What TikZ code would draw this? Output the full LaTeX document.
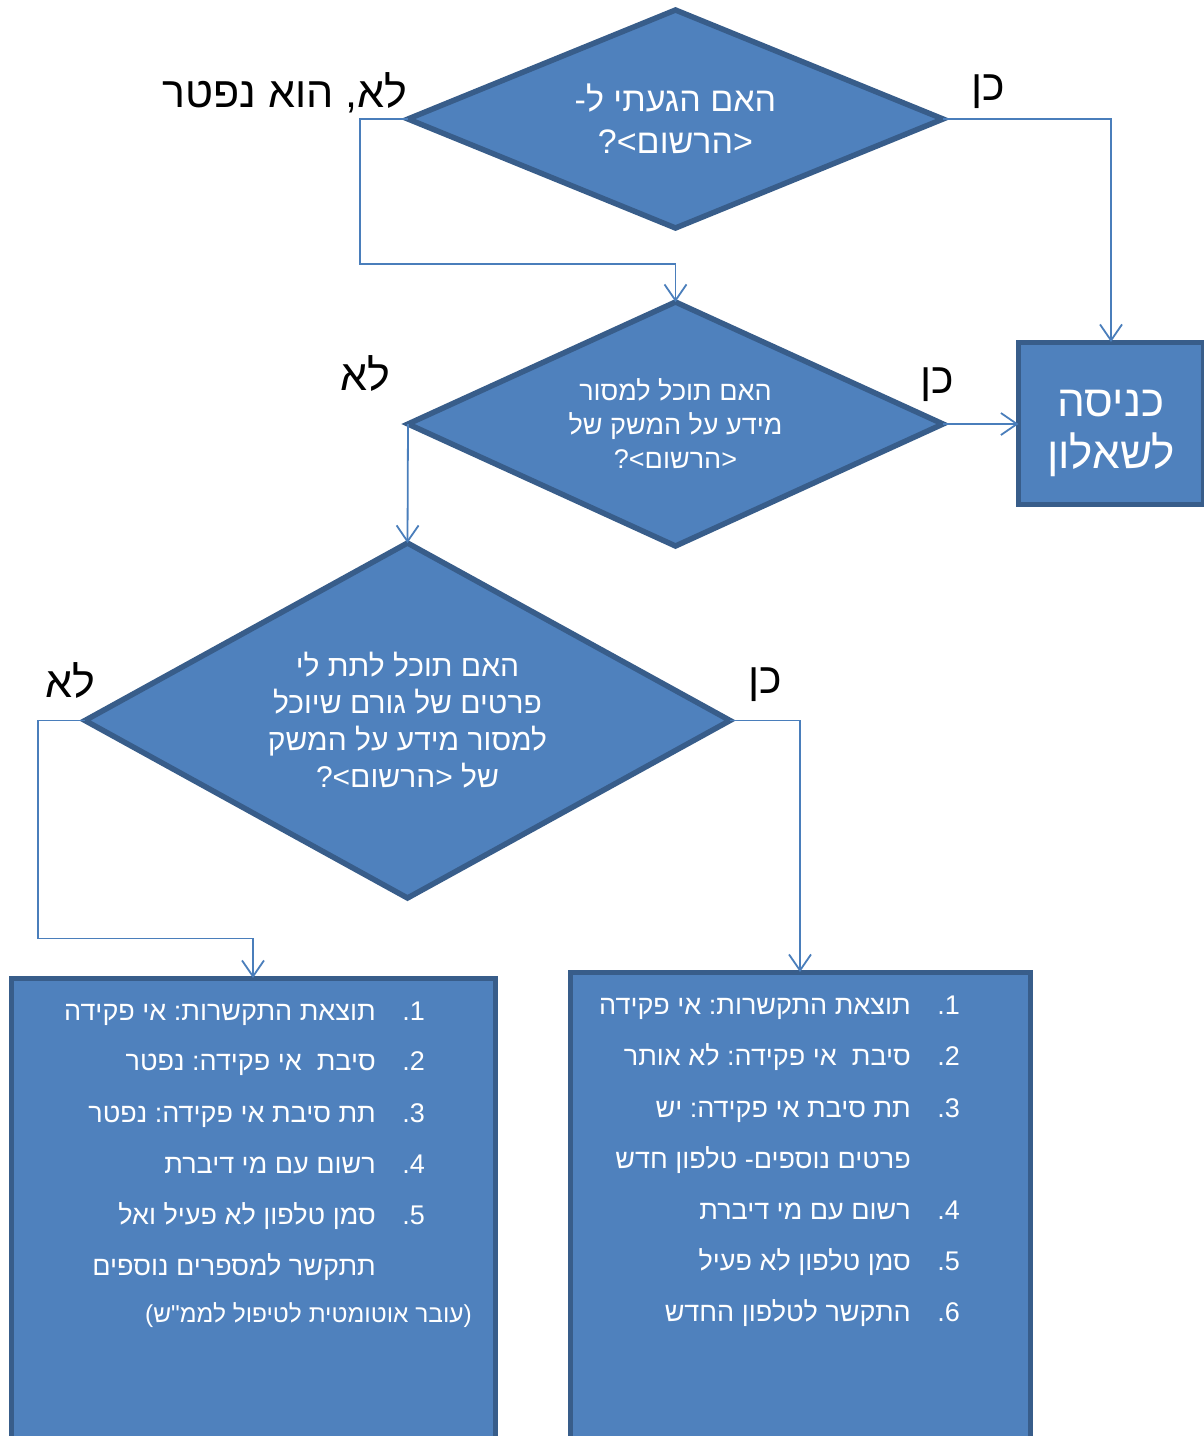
\documentclass[tikz,border=0pt]{standalone}
\usepackage{fontspec}
\newfontfamily\hebfont[Script=Hebrew]{Liberation Sans}
\TeXXeTstate=1
\usetikzlibrary{shapes.geometric,arrows.meta}
\definecolor{boxfill}{HTML}{4F81BD}
\definecolor{boxline}{HTML}{385D8A}
\definecolor{linkcol}{HTML}{4A7EBB}
\newcommand\hebline[1]{\beginR #1\endR}
\newcommand\hebsize[2]{\hebfont\frenchspacing\fontsize{#1}{#2}\selectfont}

\begin{document}
\begin{tikzpicture}[x=1pt,y=-1pt,
  decision/.style={shape=diamond, draw=boxline, fill=boxfill, line width=5.5pt,
    inner sep=0pt, outer sep=0pt, text=white, align=center},
  blockbox/.style={rectangle, draw=boxline, fill=boxfill, line width=5pt,
    inner sep=0pt, outer sep=0pt},
  link/.style={draw=linkcol, line width=1.8pt,
    -{Straight Barb[length=16pt,width=22pt,line width=1.8pt]}},
  answer/.style={font=\hebsize{43}{50}, anchor=base, inner sep=0pt},
  item/.style={text=white, font=\hebsize{27}{32}, anchor=base east, inner sep=0pt},
  note/.style={text=white, font=\hebsize{24.5}{29}, anchor=base east, inner sep=0pt},
]
\useasboundingbox (0,0) rectangle (1204,1436);

% decisions
\node[decision, minimum width=535pt, minimum height=218pt, aspect=2.45,
  font=\hebsize{34}{42}] (q1) at (675.5,119)
  {\hebline{האם הגעתי ל-}\\\hebline{<הרשום>?}};
\node[decision, minimum width=535pt, minimum height=244pt, aspect=2.19,
  font=\hebsize{27}{34}] (q2) at (675.5,424)
  {\hebline{האם תוכל למסור}\\\hebline{מידע על המשק של}\\\hebline{<הרשום>?}};
\node[decision, minimum width=645pt, minimum height=355pt, aspect=1.82,
  font=\hebsize{30}{37}] (q3) at (407.5,720.5)
  {\hebline{האם תוכל לתת לי}\\\hebline{פרטים של גורם שיוכל}\\\hebline{למסור מידע על המשק}\\\hebline{של <הרשום>?}};

% outcome boxes
\node[blockbox, minimum width=185pt, minimum height=162pt] (entry) at (1111,423) {};
\node[text=white, align=center, inner sep=0pt, font=\hebsize{44}{52}] (entrytext) at (1111,433)
  {\hebline{כניסה}\\\hebline{לשאלון}};
\node[blockbox, minimum width=484pt, minimum height=472pt] (nofind) at (253,1214) {};
\node[blockbox, minimum width=460pt, minimum height=478pt] (found) at (800,1211) {};

% answer labels
\node[answer] (no1) at (285,107) {\hebline{לא, הוא נפטר}};
\node[answer] (yes1) at (988,100) {\hebline{כן}};
\node[answer] (no2) at (365,390) {\hebline{לא}};
\node[answer] (yes2) at (937,393) {\hebline{כן}};
\node[answer] (no3) at (70,697) {\hebline{לא}};
\node[answer] (yes3) at (765,693) {\hebline{כן}};

% connectors
\draw[link] (q1.west) -- ++(-48,0) -- ++(0,145) -| (q2.north);
\draw[link] (q1.east) -| (entry.north);
\draw[link] (q2.east) -- (q2.east -| entry.west);
\draw[link] (q2.west) -- (q3.north);
\draw[link] (q3.west) -- ++(-47,0) -- ++(0,218) -| (nofind.north);
\draw[link] (q3.east) -| (found.north);

% list in the left box
\node[item] (la1) at (425,1020) {1.};
\node[item] (lb1) at (376,1020) {\hebline{תוצאת התקשרות: אי פקידה}};
\node[item] (la2) at (425,1070) {2.};
\node[item] (lb2) at (376,1070) {\hebline{סיבת\ \ אי פקידה: נפטר}};
\node[item] (la3) at (425,1122) {3.};
\node[item] (lb3) at (376,1122) {\hebline{תת סיבת אי פקידה: נפטר}};
\node[item] (la4) at (425,1173) {4.};
\node[item] (lb4) at (376,1173) {\hebline{רשום עם מי דיברת}};
\node[item] (la5) at (425,1224) {5.};
\node[item] (lb5) at (376,1224) {\hebline{סמן טלפון לא פעיל ואל}};
\node[item] (lb6) at (376,1275) {\hebline{תתקשר למספרים נוספים}};
\node[note] (lb7) at (472,1322) {\hebline{(עובר אוטומטית לטיפול לממ"ש)}};

% list in the right box
\node[item] (ra1) at (960,1014) {1.};
\node[item] (rb1) at (911,1014) {\hebline{תוצאת התקשרות: אי פקידה}};
\node[item] (ra2) at (960,1065) {2.};
\node[item] (rb2) at (911,1065) {\hebline{סיבת\ \ אי פקידה: לא אותר}};
\node[item] (ra3) at (960,1117) {3.};
\node[item] (rb3) at (911,1117) {\hebline{תת סיבת אי פקידה: יש}};
\node[item] (rb4) at (911,1168) {\hebline{פרטים נוספים- טלפון חדש}};
\node[item] (ra5) at (960,1219) {4.};
\node[item] (rb5) at (911,1219) {\hebline{רשום עם מי דיברת}};
\node[item] (ra6) at (960,1270) {5.};
\node[item] (rb6) at (911,1270) {\hebline{סמן טלפון לא פעיל}};
\node[item] (ra7) at (960,1321) {6.};
\node[item] (rb7) at (911,1321) {\hebline{התקשר לטלפון החדש}};
\end{tikzpicture}
\end{document}
